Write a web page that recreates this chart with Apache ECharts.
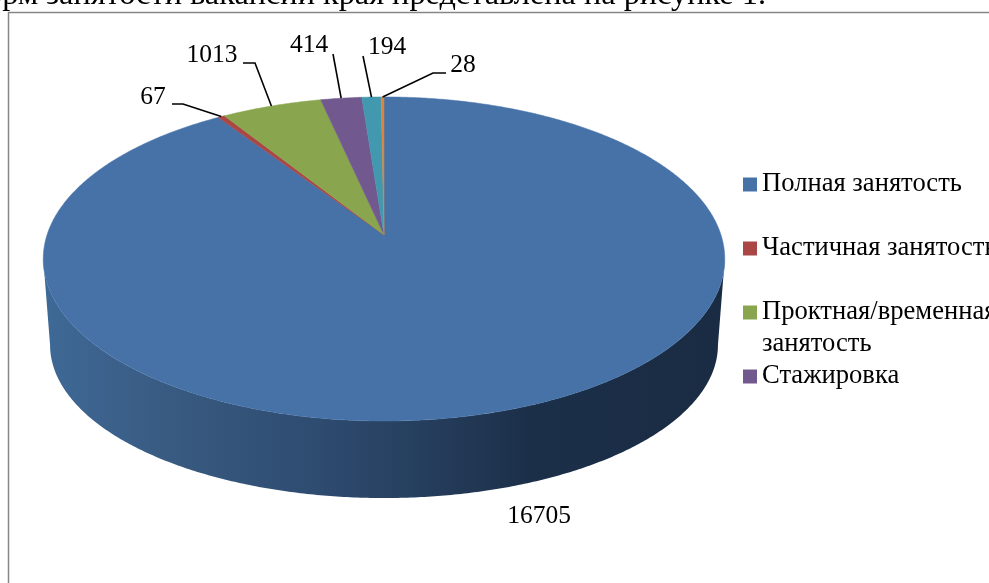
<!DOCTYPE html>
<html>
<head>
<meta charset="utf-8">
<style>
  html, body { margin: 0; padding: 0; background: #fff; overflow: hidden; }
  #chart { width: 989px; height: 583px; }
</style>
</head>
<body>
<div id="chart"></div>
<script src="https://cdn.jsdelivr.net/npm/echarts@6/dist/echarts.min.js"></script>
<script>
// order is clockwise from 12 o'clock, like the source chart
var categories = ['Полная занятость', 'Частичная занятость', 'Проктная/временная занятость', 'Стажировка', 'Другое', 'Волонтерство']
var values = [16705, 67, 1013, 414, 194, 28]
var colors = ['#4672a8', '#aa4643', '#89a54e', '#71588f', '#4198af', '#db843d']
var legendNames = categories.slice(0, 4)

// label text centre + leader knee(s), leader ends on the rim at the slice middle
var labelLayout = [
  { x: 539, y: 516, line: null },
  { x: 153, y: 97, line: [[172, 104], [183, 104]] },
  { x: 212, y: 55, line: [[243, 63], [255, 63]] },
  { x: 309, y: 45, line: [[333, 54]] },
  { x: 387, y: 47, line: [[363, 56]] },
  { x: 463, y: 65, line: [[446, 73], [433, 73]] }
]

var fontFamily = '"Liberation Serif", serif'
var total = values.reduce(function(a, b) { return a + b }, 0)

// perspective disc: apex of the slices is not the ellipse centre
var apexX = 384
var apexY = 235
var scaleX = 337
var scaleY = 158.5
var persp = 0.148
var wallStart = 98.5
var wallEnd = 261.5

function topPoint(deg) {
  var a = deg * Math.PI / 180
  var u = Math.sin(a)
  var v = -Math.cos(a)
  var w = 1 - persp * v
  return [apexX + scaleX * u / w, apexY + scaleY * v / w]
}

function bottomPoint(deg) {
  var p = topPoint(deg)
  return [apexX + (p[0] - apexX) * 0.98, 345 + (p[1] - 259) * (153 / 162)]
}

function arc(fn, from, to) {
  var pts = []
  var steps = Math.max(1, Math.ceil((to - from) / 0.5))
  for (var i = 0; i <= steps; i++) {
    pts.push(fn(from + (to - from) * i / steps))
  }
  return pts
}

var wallFill = new echarts.graphic.LinearGradient(50, 0, 718, 0, [
  { offset: 0, color: '#3e6895' },
  { offset: 0.2, color: '#38597f' },
  { offset: 0.4, color: '#2e4b70' },
  { offset: 0.55, color: '#263f5e' },
  { offset: 0.72, color: '#1c2f49' },
  { offset: 1, color: '#1a2c43' }
], true)

function sliceRender(index) {
  return function(params, api) {
    var val = api.value(0)
    var before = 0
    for (var i = 0; i < index; i++) before += values[i]
    var from = before / total * 360
    var to = (before + val) / total * 360
    var kids = []

    var wFrom = Math.max(from, wallStart)
    var wTo = Math.min(to, wallEnd)
    if (wTo > wFrom) {
      kids.push({
        type: 'polygon',
        shape: { points: arc(topPoint, wFrom, wTo).concat(arc(bottomPoint, wFrom, wTo).reverse()) },
        style: { fill: wallFill }
      })
    }

    kids.push({
      type: 'polygon',
      shape: { points: [[apexX, apexY]].concat(arc(topPoint, from, to)) },
      style: { fill: colors[index], stroke: colors[index], lineWidth: 0.5 }
    })

    var lay = labelLayout[index]
    if (lay.line) {
      kids.push({
        type: 'polyline',
        shape: { points: lay.line.concat([topPoint((from + to) / 2)]) },
        style: { fill: null, stroke: '#000', lineWidth: 1.6 }
      })
    }
    kids.push({
      type: 'text',
      style: {
        text: String(val),
        x: lay.x,
        y: lay.y,
        align: 'center',
        verticalAlign: 'middle',
        font: '25.5px ' + fontFamily,
        fill: '#000'
      }
    })
    return { type: 'group', children: kids }
  }
}

var chart = echarts.init(document.getElementById('chart'))
var option = {
  animation: false,
  backgroundColor: '#fff',
  legend: {
    orient: 'vertical',
    left: 743,
    top: 171,
    padding: 0,
    itemWidth: 14,
    itemHeight: 14,
    itemGap: 37,
    icon: 'rect',
    selectedMode: false,
    data: legendNames,
    formatter: function(name) {
      return name.split(' занятость')[0] === 'Проктная/временная' ? 'Проктная/временная' : name
    },
    textStyle: {
      fontFamily: fontFamily,
      fontSize: 26.6,
      color: '#000'
    }
  },
  graphic: [
    {
      type: 'text',
      silent: true,
      style: {
        text: 'форм занятости вакансий края представлена на рисунке 1.',
        x: 766,
        y: 12,
        align: 'right',
        verticalAlign: 'bottom',
        font: '32.3px ' + fontFamily,
        fill: '#000'
      }
    },
    {
      type: 'polyline',
      silent: true,
      shape: { points: [[8.5, 583], [8.5, 12.5], [989, 12.5]] },
      style: { fill: null, stroke: '#868686', lineWidth: 1.5 }
    },
    {
      type: 'text',
      silent: true,
      style: {
        text: 'занятость',
        x: 762,
        y: 344,
        verticalAlign: 'middle',
        font: '26.6px ' + fontFamily,
        fill: '#000'
      }
    }
  ],
  series: categories.map(function(name, i) {
    return {
      type: 'custom',
      name: name,
      coordinateSystem: 'none',
      silent: true,
      itemStyle: { color: colors[i] },
      renderItem: sliceRender(i),
      data: [values[i]]
    }
  })
}
chart.setOption(option)
</script>
</body>
</html>
